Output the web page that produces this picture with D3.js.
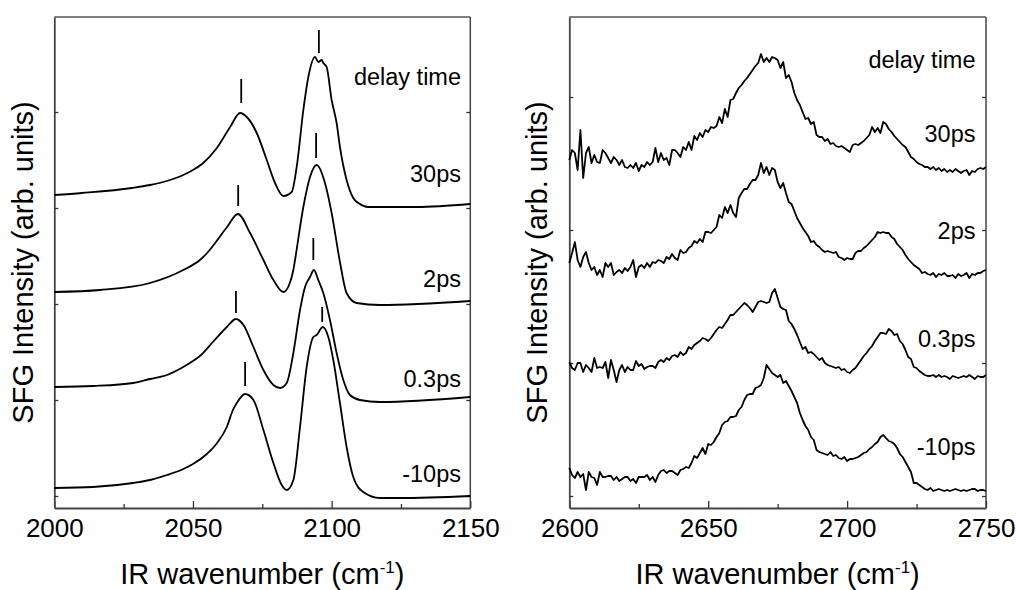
<!DOCTYPE html>
<html>
<head>
<meta charset="utf-8">
<script src="https://cdn.jsdelivr.net/npm/d3@7"></script>
<style>
  body { margin: 0; background: #fff; }
  svg { display: block; font-family: "Liberation Sans", Arial, sans-serif; }
</style>
</head>
<body>
<svg width="1016" height="590"></svg>
<script>
// ---- data (arb. units) ----
// left panel: CN stretch region, [wavenumber, intensity]
var left30 = [[2000,301],[2010,303],[2028,308],[2034.5,311],[2040.5,315],[2046.5,321],[2050,326],[2053.7,333],[2058.6,348],[2063.4,369],[2067,383],[2069.4,379],[2073,363],[2076.6,336],[2079.6,313],[2082.6,300],[2085.6,304],[2087.4,329],[2089.8,386],[2091.6,419],[2094,439],[2095.2,434],[2096.4,436],[2097,433],[2098.2,429],[2100,396],[2101.8,373],[2103,349],[2105.4,316],[2107.8,298],[2110.2,292],[2113,289],[2117.4,289],[2130.7,289],[2150,292]];
var left2 = [[2000,204],[2016.5,206],[2034.5,213],[2046.5,226],[2052.5,236],[2055.1,243],[2062.3,269],[2066.2,282],[2070.6,263],[2075.4,236],[2079,216],[2082.6,204],[2084.5,210],[2086.2,226],[2086.8,236],[2089.8,289],[2092.2,319],[2094.6,331],[2097.6,313],[2100,283],[2103,234],[2105.4,203],[2109,193],[2117.4,191],[2150,195]];
var left03 = [[2000,109],[2014,110],[2028.4,113],[2034.5,117],[2040.6,121],[2046.5,129],[2050,135],[2052.5,140],[2057.5,155],[2062.2,169],[2065.5,177],[2068.2,171],[2071.8,149],[2075.4,126],[2079,111],[2081.4,108],[2083.8,113],[2086.2,143],[2088.6,186],[2090.4,209],[2092.2,219],[2093.6,226],[2095.2,216],[2097,203],[2099.4,176],[2101.8,143],[2104.2,116],[2106.6,101],[2110.2,96],[2117.4,94],[2150,99]];
var left10 = [[2000,8],[2014,9],[2028.4,13],[2034.5,16],[2040.6,21],[2046.5,27],[2050,32],[2055,42],[2058.7,53],[2062.2,69],[2064.4,86],[2065.8,93],[2068.8,102],[2071.8,96],[2075.4,66],[2079,33],[2082,11],[2083.8,6],[2086.2,16],[2088.6,69],[2091,129],[2093.4,159],[2094.6,161],[2096.8,169],[2098.8,159],[2100.6,136],[2103,93],[2105.4,49],[2107.8,19],[2111.4,4],[2117.4,-2],[2124.7,-2],[2150,0]];
// peak markers [wavenumber, from, to]
var leftMarks = [[2067.4,393,417],[2095.4,443,466],[2066.3,290,311],[2094.4,338,363],[2065.5,183,205],[2093.4,236,258],[2068.8,110,134],[2096.6,174,189]];

// right panel: one point per cm-1 from 2600 to 2750
var rightWn = d3.range(2600, 2751, 1);
var right30 = [336,346,343,326,366,318,343,349,333,341,
  334,333,346,343,338,333,339,336,331,336,
  329,328,331,328,333,325,331,329,334,331,
  334,348,334,343,336,338,331,346,346,343,
  339,349,346,354,346,360,356,363,359,366,
  364,369,368,370,379,373,387,379,396,397,
  403,408,411,415,418,422,426,430,433,442,
  434,438,434,439,438,436,428,434,418,421,
  414,403,396,391,384,377,378,372,374,361,
  359,359,355,357,352,353,350,349,350,348,
  346,344,351,352,351,353,355,358,361,369,
  364,368,363,374,372,367,364,360,357,354,
  351,349,344,339,337,334,332,331,329,329,
  327,329,326,328,325,327,324,326,324,327,
  325,323,325,326,321,325,324,327,328,327,329];
var right2 = [233,243,254,236,229,239,244,233,226,229,
  221,226,219,233,229,233,221,224,226,223,
  228,225,229,236,219,229,231,228,233,229,
  234,233,236,235,233,239,237,242,238,236,
  246,243,244,248,250,255,253,257,254,264,
  264,263,266,269,281,278,289,283,291,283,
  279,298,303,307,307,312,316,316,321,333,
  323,329,321,328,326,314,308,313,303,294,
  292,285,278,273,268,264,260,254,255,251,
  249,246,244,245,244,243,244,239,238,236,
  238,237,237,243,245,245,248,250,253,256,
  259,264,263,264,263,263,259,257,252,249,
  246,241,237,234,231,229,227,223,224,222,
  221,223,219,222,221,223,220,220,221,218,
  222,220,221,223,218,222,221,223,223,225,226];
var right03 = [134,128,126,133,133,124,131,128,124,138,
  128,129,128,134,118,136,126,114,126,131,
  124,129,126,126,135,130,132,127,129,130,
  130,128,134,136,134,138,136,140,141,139,
  144,141,143,149,147,151,153,155,158,157,
  155,158,162,166,169,168,172,176,181,181,
  184,187,190,193,191,188,184,189,194,195,
  194,193,194,203,207,198,189,187,186,175,
  172,167,161,154,147,149,143,144,142,139,
  136,138,133,131,130,129,128,129,126,127,
  124,123,126,128,132,136,140,143,147,150,
  155,159,163,163,162,167,165,161,162,155,
  152,146,139,137,129,128,125,123,121,120,
  120,121,119,121,119,120,119,117,120,119,
  118,119,120,119,121,119,117,120,119,119,121];
var right10 = [28,21,18,24,19,22,6,24,19,18,
  11,24,19,19,20,20,16,19,15,17,
  19,19,15,17,13,19,19,19,21,16,
  19,14,21,25,26,23,25,25,23,21,
  26,27,29,28,33,40,38,43,48,42,
  52,51,54,59,63,71,74,75,79,79,
  80,86,89,96,101,102,102,108,109,111,
  118,131,127,123,121,119,121,113,115,110,
  105,99,93,83,76,70,66,59,56,46,
  44,43,42,41,44,40,41,38,37,39,
  35,37,37,38,39,41,43,44,47,49,
  52,54,59,61,58,55,54,52,48,42,
  39,34,29,24,13,13,11,9,7,6,
  8,5,6,7,6,5,6,5,6,7,
  6,5,6,5,6,7,7,5,6,6,5];

var delayLabels = ["delay time", "30ps", "2ps", "0.3ps", "-10ps"];
var leftLabelY = [411, 314, 209, 109, 14];   // label baselines, arb. units
var rightLabelY = [428, 354, 257, 149, 41];

var leftXTicks = [2000, 2050, 2100, 2150], leftXMinor = [2025, 2075, 2125];
var rightXTicks = [2600, 2650, 2700, 2750], rightXMinor = [2625, 2675, 2725];
var leftYTicks = [0, 96, 192, 288, 384];
var rightYTicks = [0, 133, 266, 399];

// ---- drawing ----
var svg = d3.select("svg");
var yTop = 17, yBottom = 508;

function panel(opt) {
    var x = d3.scaleLinear().domain(opt.xdom).range([opt.x0, opt.x1]);
    var y = d3.scaleLinear().domain([-12, 479]).range([yBottom, yTop]);
    var g = svg.append("g");

    // frame
    g.append("line").attr("x1", opt.x0).attr("x2", opt.x1).attr("y1", yTop).attr("y2", yTop)
        .attr("stroke", "#000").attr("stroke-width", 1.2);
    g.append("line").attr("x1", opt.x1).attr("x2", opt.x1).attr("y1", yTop).attr("y2", yBottom)
        .attr("stroke", "#444").attr("stroke-width", 1.5);

    var ax = g.append("g").attr("transform", "translate(0," + yBottom + ")")
        .call(d3.axisBottom(x).tickValues(opt.xticks).tickSize(-7).tickPadding(11)
            .tickSizeOuter(0).tickFormat(d3.format("d")));
    ax.selectAll("text").attr("font-size", 26).attr("fill", "#000");
    g.append("g").attr("transform", "translate(0," + yBottom + ")")
        .call(d3.axisBottom(x).tickValues(opt.xminor).tickSize(-4).tickFormat("").tickSizeOuter(0))
        .select(".domain").remove();

    g.append("g").attr("transform", "translate(" + opt.x0 + ",0)")
        .call(d3.axisLeft(y).tickValues(opt.yticks).tickSize(-4).tickFormat("").tickSizeOuter(0));
    g.append("g").attr("transform", "translate(" + opt.x1 + ",0)")
        .call(d3.axisRight(y).tickValues(opt.yticks).tickSize(-4).tickFormat("").tickSizeOuter(0))
        .select(".domain").remove();

    g.selectAll("g").attr("font-family", null);
    g.selectAll(".domain").attr("stroke", "#444").attr("stroke-width", 1.8);
    g.selectAll(".tick line").attr("stroke", "#333").attr("stroke-width", 1.3);

    // curves
    var line = d3.line().x(function (d) { return x(d[0]); }).y(function (d) { return y(d[1]); })
        .curve(opt.curve);
    opt.series.forEach(function (s) {
        g.append("path").datum(s).attr("d", line)
            .attr("fill", "none").attr("stroke", "#000").attr("stroke-width", 1.8)
            .attr("stroke-linejoin", "round");
    });

    (opt.marks || []).forEach(function (m) {
        g.append("line").attr("x1", x(m[0])).attr("x2", x(m[0])).attr("y1", y(m[1])).attr("y2", y(m[2]))
            .attr("stroke", "#000").attr("stroke-width", 1.8);
    });

    // labels
    delayLabels.forEach(function (t, i) {
        g.append("text").attr("x", opt.labelX).attr("y", y(opt.labelY[i]))
            .attr("text-anchor", "end").attr("font-size", 23.5).text(t);
    });

    g.append("text")
        .attr("transform", "translate(" + opt.ylabX + "," + ((yTop + yBottom) / 2) + ") rotate(-90)")
        .attr("text-anchor", "middle").attr("font-size", 29)
        .text("SFG Intensity (arb. units)");

    var xl = g.append("text").attr("x", (opt.x0 + opt.x1) / 2).attr("y", 584)
        .attr("text-anchor", "middle").attr("font-size", 29);
    xl.append("tspan").text("IR wavenumber (cm");
    xl.append("tspan").attr("font-size", 17).attr("dy", -11).text("-1");
    xl.append("tspan").attr("dy", 11).text(")");
}

function pairs(vals) {
    return vals.map(function (v, i) { return [rightWn[i], v]; });
}

panel({
    xdom: [2000, 2150], x0: 54.3, x1: 470.3,
    xticks: leftXTicks, xminor: leftXMinor, yticks: leftYTicks,
    series: [left30, left2, left03, left10], marks: leftMarks,
    curve: d3.curveMonotoneX,
    labelX: 461, labelY: leftLabelY, ylabX: 33
});

panel({
    xdom: [2600, 2750], x0: 569.3, x1: 986,
    xticks: rightXTicks, xminor: rightXMinor, yticks: rightYTicks,
    series: [pairs(right30), pairs(right2), pairs(right03), pairs(right10)],
    curve: d3.curveLinear,
    labelX: 975.5, labelY: rightLabelY, ylabX: 547
});
</script>
</body>
</html>
